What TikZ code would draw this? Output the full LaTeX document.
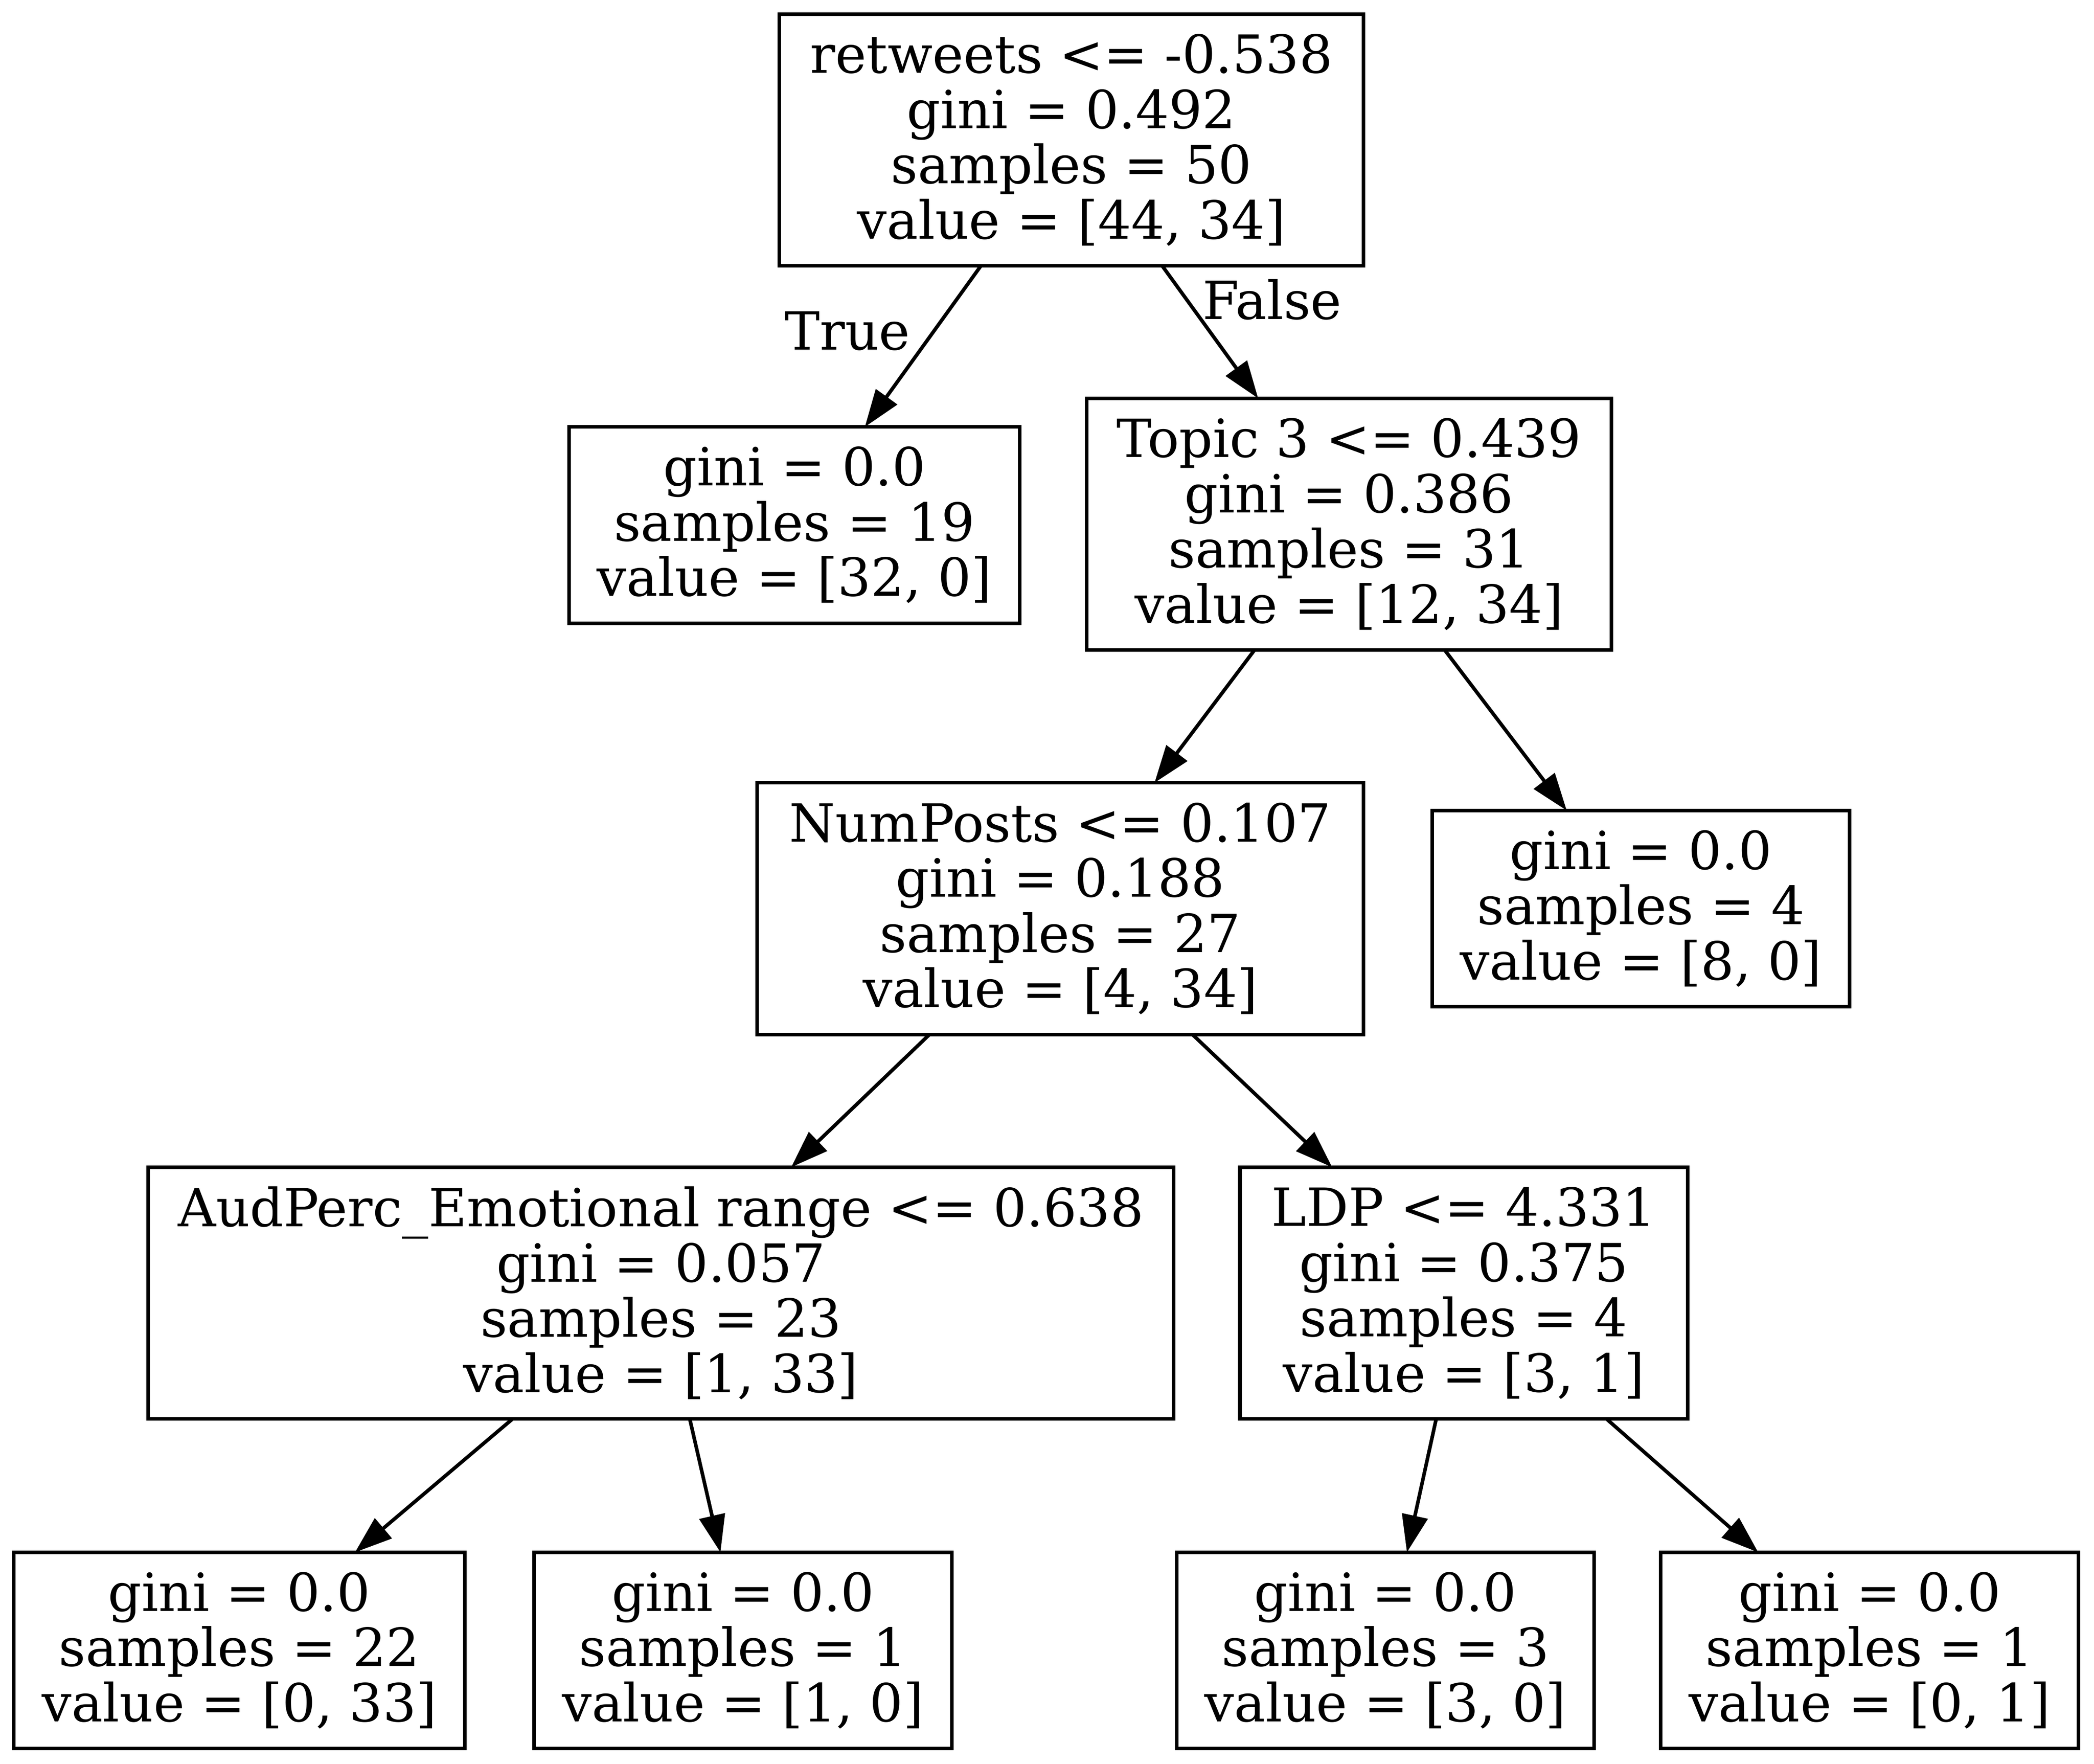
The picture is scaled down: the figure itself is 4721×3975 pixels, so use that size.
\documentclass[tikz,border=0pt]{standalone}
\usepackage{fontspec}
\setmainfont{DejaVu Serif}
\usetikzlibrary{arrows.meta}
\begin{document}
\begin{tikzpicture}[x=0.01cm,y=-0.01cm,
  treebox/.style={draw, line width=2.3pt, rectangle, inner sep=0pt, outer sep=0pt,
    align=center, font=\fontsize{33.7pt}{35.42pt}\selectfont},
  fourline/.style={treebox, minimum height=5.67cm},
  threeline/.style={treebox, minimum height=4.42cm},
  treeedge/.style={line width=2.3pt, -{Triangle[length=0.84cm,width=0.58cm]}},
  edgelbl/.style={inner sep=0pt, anchor=base, font=\fontsize{33.7pt}{35.42pt}\selectfont}]
\useasboundingbox (0,0) rectangle (4721,3975);

\node[fourline, minimum width=13.17cm] (root) at (2415.5,315.5)
  {retweets <= -0.538\\gini = 0.492\\samples = 50\\value = [44, 34]};
\node[threeline, minimum width=10.16cm] (leafA) at (1791,1183.5)
  {gini = 0.0\\samples = 19\\value = [32, 0]};
\node[fourline, minimum width=11.83cm] (topic) at (3041.5,1181.5)
  {Topic 3 <= 0.439\\gini = 0.386\\samples = 31\\value = [12, 34]};
\node[fourline, minimum width=13.67cm] (num) at (2390.5,2048)
  {NumPosts <= 0.107\\gini = 0.188\\samples = 27\\value = [4, 34]};
\node[threeline, minimum width=9.41cm] (leafB) at (3699.5,2048)
  {gini = 0.0\\samples = 4\\value = [8, 0]};
\node[fourline, minimum width=23.10cm] (aud) at (1490,2914.5)
  {AudPerc\_Emotional range <= 0.638\\gini = 0.057\\samples = 23\\value = [1, 33]};
\node[fourline, minimum width=10.085cm] (ldp) at (3300,2914.5)
  {LDP <= 4.331\\gini = 0.375\\samples = 4\\value = [3, 1]};
\node[threeline, minimum width=10.17cm] (leafC) at (539.5,3720)
  {gini = 0.0\\samples = 22\\value = [0, 33]};
\node[threeline, minimum width=9.415cm] (leafD) at (1675,3720)
  {gini = 0.0\\samples = 1\\value = [1, 0]};
\node[threeline, minimum width=9.41cm] (leafE) at (3123.5,3720)
  {gini = 0.0\\samples = 3\\value = [3, 0]};
\node[threeline, minimum width=9.415cm] (leafF) at (4215,3720)
  {gini = 0.0\\samples = 1\\value = [0, 1]};

\draw[treeedge] (root) -- (leafA);
\draw[treeedge] (root) -- (topic);
\draw[treeedge] (topic) -- (num);
\draw[treeedge] (topic) -- (leafB);
\draw[treeedge] (num) -- (aud);
\draw[treeedge] (num) -- (ldp);
\draw[treeedge] (aud) -- (leafC);
\draw[treeedge] (aud) -- (leafD);
\draw[treeedge] (ldp) -- (leafE);
\draw[treeedge] (ldp) -- (leafF);

\node[edgelbl] (truelbl) at (1911,788) {True};
\node[edgelbl] (falselbl) at (2868,719) {False};
\end{tikzpicture}
\end{document}
